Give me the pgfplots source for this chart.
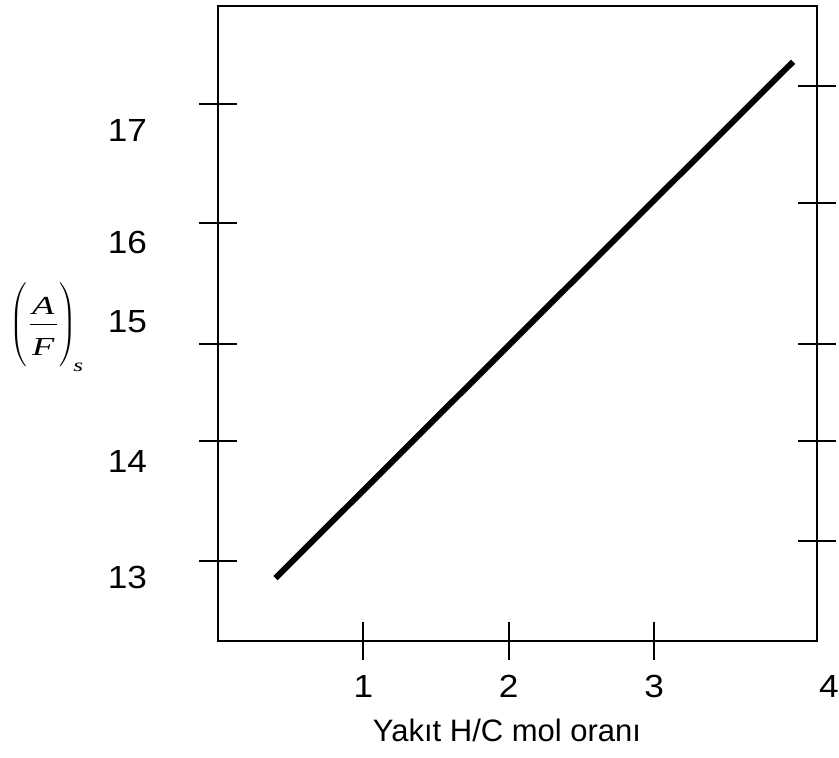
\documentclass[border=0pt]{standalone}
\usepackage{fontspec}
\setmainfont{Liberation Sans}
\newfontfamily\ticklab[FakeStretch=1.1]{Liberation Sans}
\newfontfamily\serifit[FakeStretch=1.4]{Liberation Serif}
\usepackage{pgfplots}
\pgfplotsset{compat=1.18}
\begin{document}
\begin{tikzpicture}
\begin{axis}[
  scale only axis, width=299.5pt, height=317.5pt,
  xmin=0, xmax=4.12, ymin=12.30, ymax=17.858,
  axis line style={line width=1pt},
  tick align=center, major tick length=19pt,
  every tick/.style={black, line width=1pt},
  xtick pos=bottom, ytick pos=left,
  xtick={1,2,3}, xticklabels={1,2,3},
  ytick={13,14.050,14.899,15.958,17}, yticklabels={},
  extra y ticks={12.860,13.867,15.092,15.792,16.772},
  extra y tick labels={13,14,15,16,17},
  extra y tick style={major tick style={draw=none}},
  extra x ticks={4.12}, extra x tick labels={4},
  extra x tick style={major tick style={draw=none}, xticklabel style={xshift=6pt}},
  /pgf/number format/assume math mode=true,
  tick label style={font=\ticklab\fontsize{16}{18}\selectfont},
  yticklabel style={xshift=-22.5pt},
  xticklabel style={yshift=-4pt},
  xlabel={Yakıt H/C mol oranı},
  x label style={font=\fontsize{15.5}{18}\selectfont, at={(axis description cs:0.4825,0)}, anchor=center, yshift=-44.5pt},
  clip=false,
]
\addplot[black, line width=3pt] coordinates {(0.395,12.85) (3.955,17.37)};
\node at (axis cs:0,15.08) [xshift=-85.5pt, yshift=-1pt] {\fontsize{13}{15}\selectfont\serifit\itshape$\left(\vcenter{\hbox{\rule{0pt}{46pt}}}\frac{\raisebox{3.5pt}{\makebox[13.5pt]{A}}}{\raisebox{-8pt}{\makebox[13.5pt]{F}}}\right)_{\!\mbox{\fontsize{9}{10}\selectfont s}}$};
\end{axis}
\begin{axis}[
  scale only axis, width=299.5pt, height=317.5pt,
  xmin=0, xmax=4.12, ymin=12.30, ymax=17.858,
  hide x axis, axis y line*=right,
  axis line style={line width=1pt},
  tick align=center, major tick length=19pt,
  every tick/.style={black, line width=1pt},
  ytick={13.175,14.050,14.899,16.133,17.158}, yticklabels={},
]
\addplot[draw=none] coordinates {(1,13)};
\end{axis}
\pgfresetboundingbox
\useasboundingbox (-109pt,-58.5pt) rectangle (310.5pt,320.5pt);
\end{tikzpicture}
\end{document}
